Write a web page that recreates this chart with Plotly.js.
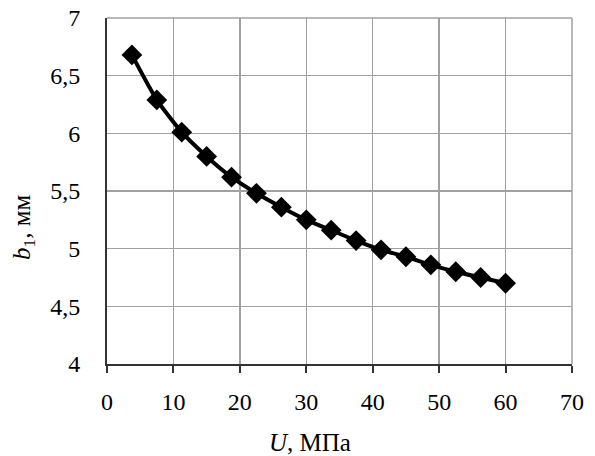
<!DOCTYPE html>
<html>
<head>
<meta charset="utf-8">
<script src="https://cdn.plot.ly/plotly-3.0.1.min.js"></script>
<style>html,body{margin:0;padding:0;background:#fff;}#chart{width:595px;height:456px;}</style>
</head>
<body>
<div id="chart"></div>
<script>
const uValues = [3.75, 7.5, 11.25, 15, 18.75, 22.5, 26.25, 30, 33.75, 37.5, 41.25, 45, 48.75, 52.5, 56.25, 60];
const b1Values = [6.68, 6.29, 6.01, 5.80, 5.62, 5.48, 5.36, 5.25, 5.16, 5.07, 4.99, 4.93, 4.86, 4.80, 4.75, 4.70];
const xTicks = [0, 10, 20, 30, 40, 50, 60, 70];
const yTicks = [4, 4.5, 5, 5.5, 6, 6.5, 7];
const yTickText = ['4', '4,5', '5', '5,5', '6', '6,5', '7'];
const xTitle = '<i>U</i>, МПа';
const yTitle = '<i>b</i><sub>1</sub>, мм';

const font = {family: 'Liberation Serif, Times New Roman, serif', size: 24, color: '#000'};
const titleFont = {family: 'Liberation Serif, Times New Roman, serif', size: 25, color: '#000'};

Plotly.newPlot('chart', [{
  x: uValues, y: b1Values,
  type: 'scatter', mode: 'lines+markers',
  line: {color: '#000', width: 4, shape: 'spline', smoothing: 0.6},
  marker: {symbol: 'diamond', size: 16, color: '#000'}
}], {
  width: 595, height: 456,
  margin: {l: 107, r: 23, t: 18, b: 92},
  paper_bgcolor: '#fff', plot_bgcolor: '#fff',
  separators: ', ',
  font: font,
  showlegend: false,
  xaxis: {
    range: [0, 70], tickvals: xTicks, ticktext: xTicks.map(String),
    showgrid: true, gridcolor: '#a0a0a0', gridwidth: 1.5,
    showline: true, linecolor: '#333', linewidth: 2,
    ticks: 'outside', ticklen: 7, tickcolor: '#333', tickwidth: 2,
    zeroline: false, tickfont: font, ticklabelstandoff: 8
  },
  yaxis: {
    range: [4, 7], tickvals: yTicks, ticktext: yTickText,
    showgrid: true, gridcolor: '#a0a0a0', gridwidth: 1.5,
    showline: true, linecolor: '#333', linewidth: 2,
    ticks: 'outside', ticklen: 20, tickcolor: 'rgba(0,0,0,0)', tickwidth: 2,
    zeroline: false, tickfont: font
  },
  yaxis2: {
    overlaying: 'y', anchor: 'x', side: 'left',
    range: [4, 7], tickvals: yTicks, showticklabels: false,
    showgrid: false, showline: false, zeroline: false,
    ticks: 'outside', ticklen: 7, tickcolor: '#333', tickwidth: 2
  },
  annotations: [
    {text: xTitle, xref: 'paper', yref: 'paper', x: 0.4366, y: -0.228, xanchor: 'center', yanchor: 'middle', showarrow: false, font: titleFont},
    {text: yTitle, xref: 'paper', yref: 'paper', x: -0.1785, y: 0.396, xanchor: 'center', yanchor: 'middle', textangle: -90, showarrow: false, font: titleFont}
  ],
  shapes: [
    {type: 'line', xref: 'paper', yref: 'paper', x0: 0, x1: 1, y0: 1, y1: 1, line: {color: '#a0a0a0', width: 1.5}},
    {type: 'line', xref: 'paper', yref: 'paper', x0: 1, x1: 1, y0: 0, y1: 1, line: {color: '#a0a0a0', width: 1.5}}
  ]
}, {staticPlot: true});
</script>
</body>
</html>
